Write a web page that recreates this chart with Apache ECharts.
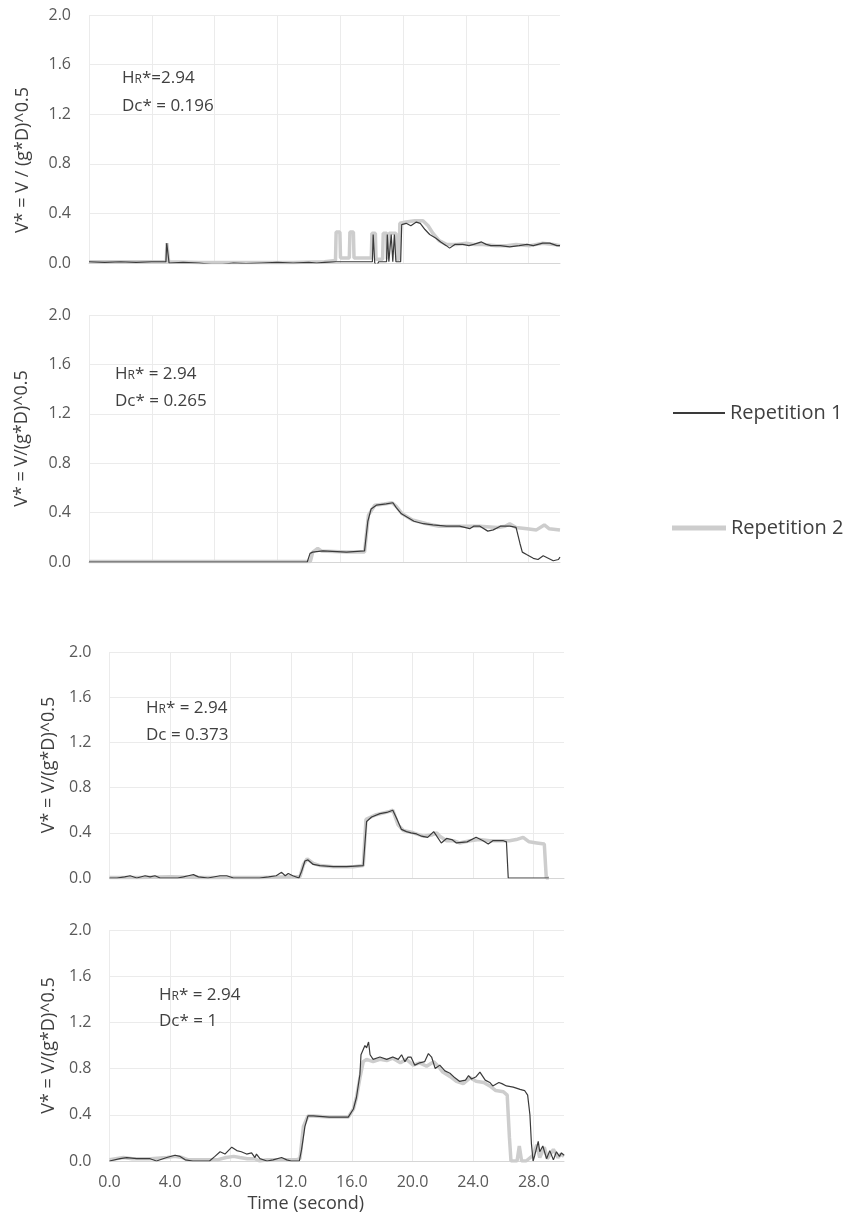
<!DOCTYPE html>
<html>
<head>
<meta charset="utf-8">
<script src="https://cdn.jsdelivr.net/npm/echarts@6/dist/echarts.min.js"></script>
<style>
html,body{margin:0;padding:0;background:#fff;}
#chart{width:860px;height:1222px;}
</style>
</head>
<body>
<div id="chart"></div>
<script>
// ---- data: [time (s), V*] ----
const xTicks = [0, 4, 8, 12, 16, 20, 24, 28];
const yTicks = [0, 0.4, 0.8, 1.2, 1.6, 2.0];
const seriesNames = ['Repetition 1', 'Repetition 2'];

const p1Rep1 = [[0,0.01],[1,0.005],[2,0.01],[3,0.005],[4,0.01],[4.9,0.01],[4.95,0.16],[5.05,0.16],[5.1,0.0],[6,0.005],[7,0.0],[7.8,-0.01],[8.5,-0.01],[9.2,0.0],[10,-0.005],[11,0.0],[12,0.005],[13,0.0],[14,0.005],[14.5,0.0],[15,0.005],[15.7,0.01],[16.5,0.01],[17.5,0.01],[18.05,0.01],[18.1,0.23],[18.15,0.23],[18.2,0.0],[18.34,-0.02],[18.45,0.01],[18.95,0.01],[19.0,0.23],[19.06,0.23],[19.1,0.01],[19.22,0.01],[19.25,0.23],[19.3,0.23],[19.35,0.01],[19.42,0.01],[19.45,0.23],[19.5,0.23],[19.55,0.01],[19.85,0.01],[19.92,0.31],[20.2,0.32],[20.5,0.3],[20.85,0.33],[21.1,0.32],[21.4,0.27],[21.7,0.23],[22.1,0.2],[22.4,0.17],[22.76,0.14],[22.97,0.12],[23.3,0.15],[23.8,0.15],[24.2,0.14],[24.5,0.15],[25.0,0.17],[25.3,0.15],[25.6,0.14],[26.2,0.14],[26.8,0.13],[27.4,0.14],[27.9,0.15],[28.3,0.14],[28.9,0.16],[29.35,0.16],[29.8,0.14],[30,0.14]];
const p1Rep2 = [[0,0.01],[2,0.01],[4,0.01],[4.93,0.01],[4.96,0.16],[5.04,0.16],[5.07,0.01],[7,0.005],[9,0.005],[11,0.005],[13,0.005],[15,0.01],[15.7,0.02],[15.74,0.25],[15.98,0.25],[16.02,0.04],[16.58,0.04],[16.62,0.25],[16.84,0.25],[16.88,0.04],[17.98,0.04],[18.02,0.24],[18.24,0.24],[18.28,0.03],[18.7,0.03],[18.74,0.24],[18.96,0.24],[19.0,0.03],[19.08,0.03],[19.12,0.24],[19.55,0.24],[19.6,0.03],[19.74,0.03],[19.8,0.32],[20.2,0.33],[20.74,0.34],[21.27,0.34],[21.6,0.3],[21.9,0.24],[22.3,0.18],[22.76,0.15],[23.4,0.15],[24.04,0.16],[24.5,0.15],[25.1,0.15],[25.95,0.14],[26.6,0.14],[27.2,0.15],[28.1,0.14],[28.5,0.15],[28.9,0.16],[29.6,0.15],[30,0.14]];

const p2Rep1 = [[0,0.0],[13.9,0.0],[14.08,0.07],[14.25,0.08],[14.9,0.09],[16.4,0.08],[17.55,0.09],[17.76,0.33],[17.97,0.43],[18.3,0.46],[18.93,0.47],[19.36,0.48],[19.57,0.44],[19.9,0.39],[20.3,0.36],[20.7,0.33],[21.3,0.31],[21.9,0.3],[22.76,0.29],[23.6,0.29],[24.25,0.27],[24.5,0.29],[24.9,0.29],[25.4,0.25],[25.75,0.26],[26.2,0.29],[26.8,0.29],[27.2,0.28],[27.45,0.15],[27.6,0.08],[27.87,0.06],[28.3,0.03],[28.6,0.02],[28.93,0.05],[29.25,0.03],[29.57,0.01],[29.9,0.02],[30,0.04]];
const p2Rep2 = [[0,0.005],[14.1,0.005],[14.25,0.08],[14.57,0.11],[14.8,0.09],[16.4,0.08],[17.55,0.08],[17.8,0.38],[18.2,0.46],[18.8,0.47],[19.3,0.48],[19.57,0.45],[19.95,0.39],[20.6,0.34],[21.5,0.31],[22.3,0.29],[23.8,0.29],[24.9,0.29],[26.0,0.28],[26.5,0.29],[26.8,0.31],[27.2,0.28],[27.9,0.27],[28.5,0.26],[29.0,0.3],[29.3,0.27],[30,0.26]];

const p3Rep1 = [[0,0.0],[0.5,0.0],[1.0,0.01],[1.36,0.02],[1.8,0.0],[2.35,0.02],[2.68,0.01],[3.0,0.02],[3.34,0.0],[4.5,0.0],[4.88,0.01],[5.2,0.02],[5.54,0.03],[5.87,0.01],[6.5,0.0],[7.3,0.02],[7.74,0.02],[8.18,0.0],[9.9,0.0],[10.5,0.01],[11.0,0.02],[11.36,0.05],[11.6,0.02],[11.8,0.04],[12.1,0.02],[12.5,0.0],[12.68,0.06],[12.9,0.15],[13.1,0.16],[13.45,0.12],[13.9,0.11],[14.77,0.1],[15.65,0.1],[16.75,0.11],[16.97,0.5],[17.3,0.54],[17.85,0.57],[18.3,0.58],[18.7,0.6],[18.94,0.53],[19.27,0.43],[19.6,0.41],[19.9,0.4],[20.27,0.39],[20.6,0.37],[21.0,0.36],[21.4,0.41],[21.6,0.37],[21.9,0.31],[22.25,0.35],[22.6,0.34],[22.9,0.31],[23.6,0.32],[24.2,0.36],[24.66,0.33],[25.0,0.3],[25.3,0.33],[26.0,0.33],[26.2,0.32],[26.32,0.0],[28.5,0.0],[28.6,0.015],[28.7,0.0],[29.0,0.0]];
const p3Rep2 = [[0,0.005],[2,0.005],[4,0.01],[6,0.005],[8,0.005],[10,0.005],[12,0.01],[12.57,0.01],[12.8,0.12],[13.05,0.17],[13.45,0.13],[13.9,0.11],[14.77,0.1],[16.1,0.1],[16.75,0.11],[16.93,0.52],[17.6,0.56],[18.5,0.59],[18.7,0.6],[19.05,0.47],[19.4,0.42],[20.05,0.4],[20.7,0.37],[21.25,0.38],[21.6,0.4],[21.8,0.37],[22.25,0.33],[22.7,0.33],[23.1,0.31],[23.8,0.33],[24.4,0.34],[25.1,0.33],[25.8,0.33],[26.4,0.33],[26.85,0.34],[27.3,0.36],[27.7,0.32],[28.2,0.31],[28.7,0.3],[28.83,0.0],[29.0,0.0]];

const p4Rep1 = [[0,0.0],[0.7,0.02],[1.14,0.03],[1.8,0.02],[2.68,0.02],[3.1,0.0],[3.78,0.03],[4.33,0.05],[4.66,0.04],[5.0,0.01],[5.5,0.0],[6.6,0.0],[6.96,0.04],[7.3,0.08],[7.62,0.06],[8.07,0.12],[8.4,0.09],[8.7,0.08],[9.05,0.06],[9.38,0.07],[9.6,0.03],[9.7,0.06],[9.93,0.02],[10.4,0.0],[10.8,0.01],[11.36,0.03],[11.7,0.01],[12.0,0.0],[12.53,0.0],[12.68,0.1],[12.9,0.3],[13.1,0.39],[13.45,0.39],[14.5,0.38],[15.76,0.38],[16.1,0.45],[16.3,0.55],[16.53,0.75],[16.6,0.92],[16.86,1.0],[16.97,0.98],[17.1,1.03],[17.2,0.92],[17.4,0.88],[17.85,0.9],[18.3,0.88],[18.7,0.9],[19.06,0.88],[19.28,0.92],[19.5,0.86],[19.7,0.9],[19.9,0.9],[20.15,0.83],[20.48,0.85],[20.8,0.86],[21.05,0.93],[21.26,0.9],[21.5,0.8],[21.8,0.83],[22.14,0.78],[22.47,0.76],[22.8,0.72],[23.1,0.69],[23.5,0.7],[23.7,0.74],[23.9,0.71],[24.2,0.73],[24.45,0.77],[24.8,0.7],[25.1,0.68],[25.3,0.65],[25.7,0.68],[25.9,0.67],[26.2,0.65],[26.65,0.64],[27.1,0.62],[27.4,0.61],[27.6,0.57],[27.75,0.4],[27.85,0.15],[27.96,0.0],[28.07,0.05],[28.3,0.17],[28.4,0.08],[28.6,0.13],[28.85,0.02],[29.06,0.09],[29.3,0.01],[29.5,0.08],[29.7,0.04],[29.83,0.07],[30,0.05]];
const p4Rep2 = [[0,0.01],[0.92,0.03],[1.5,0.02],[2.7,0.02],[3.8,0.03],[4.3,0.04],[4.8,0.03],[5.2,0.01],[6.6,0.01],[7.1,0.01],[7.7,0.03],[8.2,0.04],[8.6,0.03],[9.1,0.02],[9.6,0.02],[9.9,0.0],[10.4,0.01],[12.3,0.01],[12.57,0.02],[12.8,0.3],[13.1,0.39],[13.45,0.39],[14.5,0.38],[15.76,0.38],[16.1,0.45],[16.3,0.55],[16.53,0.72],[16.75,0.86],[16.97,0.88],[17.4,0.86],[17.85,0.88],[18.3,0.87],[18.7,0.89],[19.2,0.85],[19.6,0.88],[20.05,0.83],[20.48,0.85],[20.93,0.82],[21.4,0.86],[21.7,0.82],[22.0,0.77],[22.5,0.73],[22.9,0.69],[23.35,0.67],[23.8,0.72],[24.2,0.69],[24.7,0.68],[25.1,0.65],[25.5,0.61],[26.0,0.6],[26.25,0.57],[26.4,0.2],[26.5,0.0],[26.9,0.0],[27.05,0.13],[27.2,0.0],[27.5,0.0],[27.96,0.05],[28.2,0.14],[28.4,0.03],[28.7,0.12],[28.9,0.02],[29.3,0.1],[29.6,0.03],[29.8,0.06],[30,0.04]];

const panelRep1 = [p1Rep1, p2Rep1, p3Rep1, p4Rep1];
const panelRep2 = [p1Rep2, p2Rep2, p3Rep2, p4Rep2];
const yTitles = ['V* = V / (g*D)^0.5', 'V* = V/(g*D)^0.5', 'V* = V/(g*D)^0.5', 'V* = V/(g*D)^0.5'];
const hrLabels = ['*=2.94', '* = 2.94', '* = 2.94', '* = 2.94'];
const dcLabels = ['Dc* = 0.196', 'Dc* = 0.265', 'Dc = 0.373', 'Dc* = 1'];

// ---- layout ----
const FONT = '"Open Sans", "Noto Sans", sans-serif';
const grids = [
  {left: 89, top: 15, width: 471, height: 248},
  {left: 89, top: 315, width: 471, height: 247},
  {left: 109.5, top: 652, width: 454.5, height: 226},
  {left: 109.5, top: 930, width: 454.5, height: 231}
];
const nameGaps = [57, 58, 52, 48];
const namePads = [[0, 42, 0, 0], [0, 0, 0, 0], [0, 0, 0, 0], [0, 0, 0, 0]];
const notePos = [[122, 70, 98], [115, 366, 393], [146, 700, 727], [159, 987, 1013]];

const xAxes = [], yAxes = [], series = [], titles = [];
grids.forEach((g, i) => {
  const last = i === 3;
  xAxes.push({
    type: 'value', gridIndex: i, min: 0, max: 30, interval: 4,
    axisLine: {show: true, lineStyle: {color: '#d6d6d6', width: 1}},
    axisTick: {show: false},
    axisLabel: {show: last, showMaxLabel: false, margin: 13, color: '#595959', fontSize: 16, fontFamily: FONT,
      formatter: v => xTicks.indexOf(v) >= 0 ? v.toFixed(1) : ''},
    splitLine: {show: true, showMaxLine: false, lineStyle: {color: '#ebebeb', width: 1}},
    name: last ? 'Time (second)' : '',
    nameLocation: 'middle', nameGap: 34,
    nameTextStyle: {color: '#404040', fontSize: 18, fontFamily: FONT, padding: [0, 62, 0, 0]}
  });
  yAxes.push({
    type: 'value', gridIndex: i, min: 0, max: 2, interval: 0.4,
    axisLine: {show: false}, axisTick: {show: false},
    axisLabel: {margin: 18, color: '#595959', fontSize: 16, fontFamily: FONT,
      formatter: v => v.toFixed(1)},
    splitLine: {show: true, lineStyle: {color: '#ebebeb', width: 1}},
    name: yTitles[i], nameLocation: 'middle', nameGap: nameGaps[i],
    nameTextStyle: {color: '#404040', fontSize: 18, fontFamily: FONT, padding: namePads[i]}
  });
  series.push({
    name: seriesNames[1], type: 'line', xAxisIndex: i, yAxisIndex: i,
    data: panelRep2[i], showSymbol: false, symbol: 'none',
    color: '#cdcdcd', lineStyle: {color: '#cdcdcd', width: 3.5}, z: 2
  });
  series.push({
    name: seriesNames[0], type: 'line', xAxisIndex: i, yAxisIndex: i,
    data: panelRep1[i], showSymbol: false, symbol: 'none',
    color: '#3a3a3a', lineStyle: {color: '#3a3a3a', width: 1.2}, z: 3
  });
  const rich = {
    a: {fontSize: 17, color: '#404040', fontFamily: FONT},
    s: {fontSize: 12, color: '#404040', fontFamily: FONT, verticalAlign: 'bottom', padding: [0, 0, 1, 0]}
  };
  titles.push({
    left: notePos[i][0], top: notePos[i][1], padding: 0,
    text: '{a|H}{s|R}{a|' + hrLabels[i] + '}',
    textStyle: {rich: rich, fontSize: 17, fontWeight: 'normal'}
  });
  titles.push({
    left: notePos[i][0], top: notePos[i][2], padding: 0,
    text: dcLabels[i],
    textStyle: {fontSize: 17, color: '#404040', fontWeight: 'normal', fontFamily: FONT}
  });
});

const chart = echarts.init(document.getElementById('chart'), null, {renderer: 'canvas'});
chart.setOption({
  animation: false,
  backgroundColor: '#ffffff',
  title: titles,
  legend: [
    {data: [seriesNames[0]], left: 668, top: 398, icon: 'rect', itemWidth: 52, itemHeight: 2,
      textStyle: {fontSize: 20, color: '#404040', fontFamily: FONT}, selectedMode: false},
    {data: [seriesNames[1]], left: 667, top: 513, icon: 'rect', itemWidth: 54, itemHeight: 5,
      textStyle: {fontSize: 20, color: '#404040', fontFamily: FONT}, selectedMode: false}
  ],
  grid: grids,
  xAxis: xAxes,
  yAxis: yAxes,
  series: series
});
</script>
</body>
</html>
